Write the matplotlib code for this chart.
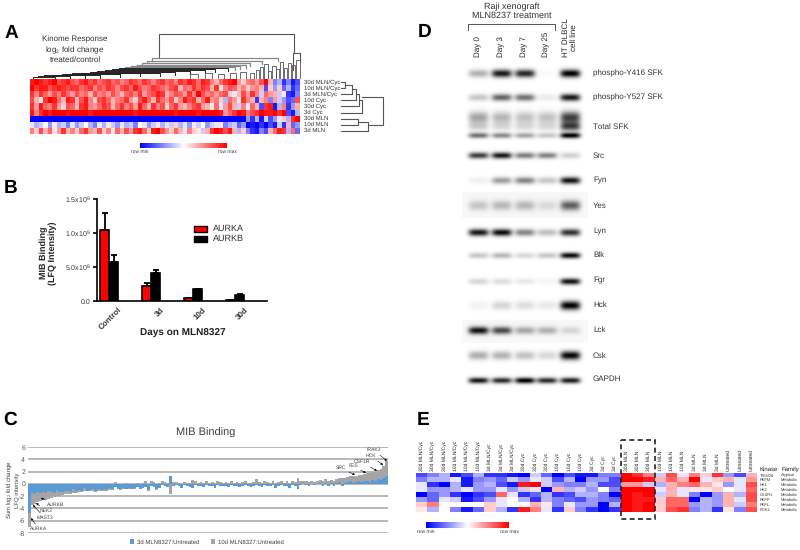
import numpy as np
import matplotlib
matplotlib.use('Agg')
import matplotlib.pyplot as plt
import matplotlib.patches as mpatches
from matplotlib.colors import LinearSegmentedColormap
from matplotlib.transforms import ScaledTranslation

plt.rcParams['font.family'] = ['Liberation Sans', 'DejaVu Sans']
plt.rcParams['mathtext.default'] = 'regular'
plt.rcParams['text.hinting'] = 'no_hinting'
plt.rcParams['text.hinting_factor'] = 1
plt.rcParams['axes.unicode_minus'] = False

W, H = 800, 550

# --- PANEL A DATA ---
a_labels = ['30d MLN/Cyc', '10d MLN/Cyc', '3d MLN/Cyc', '10d Cyc', '30d Cyc', '3d Cyc',
            '30d MLN', '10d MLN', '3d MLN']
a_r1 = [9,10,9,8,9,10,7,8,9,7, 6,8,9,7,8,6,7,8,6,7, 5,6,8,7,6,8,7,5,7,8,
        6,7,5,8,7,9,8,6,9,8, 5,3,6,8,9,10,4,2,5,6, 4,7,10,3,-5,-3,-8,-5,-9,-7]
a_r2 = [10,8,9,9,7,8,9,8,7,8, 8,6,7,8,5,7,6,8,7,5, 7,8,6,9,7,5,6,8,7,6,
        5,7,8,3,6,5,8,6,8,7, 3,8,1,5,7,6,3,5,2,4, 5,3,-7,2,-4,2,-6,-3,-8,-6]
a_r3 = [8,5,8,6,4,7,5,8,6,4, 7,5,6,3,7,5,6,4,7,5, 3,6,7,5,8,4,6,7,9,8,
        3,5,7,6,4,8,5,10,7,5, 6,4,6,7,2,-1,3,7,4,8, 5,-2,6,4,3,-2,1,-8,-9,-5]
a_r4 = [7,3,1,8,10,9,6,3,9,8, 3,7,9,5,2,7,8,6,3,5, 6,8,4,2,7,9,6,3,8,6,
        4,7,2,5,9,7,8,3,6,9, 4,5,2,-3,6,4,1,8,5,3, -8,3,5,-5,4,-2,-4,-7,-6,7]
a_r5 = [8,4,9,6,5,8,4,2,7,6, 3,8,9,5,4,6,8,7,3,6, 8,5,7,4,9,6,3,8,5,7,
        2,6,8,4,3,5,7,8,4,3, 1,6,-1,4,7,3,-2,5,-1,6, 3,-7,8,9,-9,-3,5,-8,-4,3]
a_r6 = [9,5,8,10,9,10,10,10,9,10, 10,10,10,9,10,10,10,10,10,10, 10,10,10,9,10,10,10,10,10,10,
        10,10,9,10,10,10,10,9,10,10, 10,10,9,4,6,8,10,9,5,7, 8,10,9,9,10,8,10,-7,-9,-3]
a_r7 = [-10,-10,-10,-10,-10,-10,-10,-10,-10,-10, -10,-10,-10,-10,-10,-10,-10,-10,-10,-10,
        -10,-10,-10,-10,-10,-10,-10,-10,-10,-10, -10,-10,-10,-10,-10,-10,-10,-10,-10,-10,
        -10,-10,-10,-10,-10,-10,-10,-10,-4,-8, -3,-9,-2,-7,-4,-1,2,-3,8,10]
a_r8 = [-1,-3,-2,0,-4,1,-3,-2,-5,-1, -4,-2,0,-3,-5,-1,-3,1,-2,-4, -1,-3,-2,-5,0,-1,-4,-2,1,-3,
        -1,-2,2,-3,-1,-4,1,-2,0,-4, -2,-1,1,-5,-3,-2,-6,-4,-10,-9, -10,-8,-10,-7,-9,-2,-8,3,-6,-4]
a_r9 = [5,2,7,3,6,1,4,8,3,5, 2,6,8,4,3,7,2,5,1,6, 3,7,4,8,9,6,2,9,10,7,
        4,2,6,3,-1,5,2,1,-2,3, 8,10,9,7,9,3,-3,2,-5,-8, -9,-5,-7,3,6,9,8,-3,6,-6]

# column dendrogram: ladder of merges, then the small clusters near the right end
lad_left = [152, 147, 142, 137, 131, 125, 119, 112, 105, 97, 90, 82, 72, 62, 52, 44, 38, 33]
lad_right = [278, 262, 250, 246, 240, 235, 228, 215, 205, 190, 175, 160, 140, 120, 100, 85, 70, 55]
lad_y = [58, 61, 63, 65, 66, 67, 68, 69, 70, 71, 71.5, 72.5, 73, 74, 74.5, 75, 76, 76.5]
small_left = [256, 260, 264, 268, 272, 276, 280, 284, 288, 292, 296, 250, 240, 230, 218, 205, 190]
small_right = [259, 263, 268, 271, 276, 279, 283, 287, 291, 295, 300, 254, 246, 236, 224, 212, 198]
small_y = [70, 67, 64, 71, 66, 69, 62, 68, 63, 65, 60, 73, 72, 73, 74, 73, 74]

# --- PANEL B DATA ---
b_groups = ['Control', '3d', '10d', '30d']
aurka = [1.05e9, 0.22e9, 0.05e9, 0.01e9]
aurka_err = [0.25e9, 0.04e9, 0.0, 0.0]
aurkb = [0.57e9, 0.41e9, 0.17e9, 0.09e9]
aurkb_err = [0.11e9, 0.05e9, 0.01e9, 0.02e9]
b_ticks = [0, 0.5e9, 1.0e9, 1.5e9]
b_ticklabels = ['0.0', '5.0x10$^8$', '1.0x10$^9$', '1.5x10$^9$']

# --- PANEL C DATA ---
c_blue = [-4.8,-1.5,-1.6,-1.4,-1.5,-1.3,-1.5,-1.2,-1.4,-1.5,
          -1.0,-1.3,-1.4,-1.1,-1.2,-1.4,-0.8,-1.2,-1.0,-1.1,
          -0.6,-1.1,-1.0,-0.9,-1.2,-0.9,-1.0,-0.8,-1.0,-0.7,
          -0.9,-0.5,-0.8,-0.9,-0.6,-0.9,-0.7,-0.8,-0.7,-0.5,
          -0.8,-0.6,-0.5,-1.0,-0.3,-0.5,-0.8,-0.6,-0.2,-0.4,
          -0.5,1.2,-0.3,-0.2,-0.4,-0.6,-0.2,-0.3,-0.5,-0.6,
          -0.2,-0.4,-0.3,-0.5,-0.2,-0.4,-0.3,-0.7,-0.2,-0.3,
          -0.4,-0.3,-0.5,-0.2,-0.4,-0.3,-0.5,-0.3,-0.2,-0.4,
          -0.5,-0.3,-0.2,-0.4,-0.5,-0.2,-0.3,-0.4,-0.2,-0.6,
          -0.3,-0.2,-0.4,-0.3,-0.7,-0.2,-0.3,-0.8,-0.2,-0.1,
          -0.2,-0.3,-0.1,-0.2,-0.1,0.1,-0.3,0.2,-0.4,0.1,
          -0.3,0.2,0.3,-0.4,0.2,0.3,0.4,0.2,0.3,0.4,
          0.3,0.5,0.4,0.3,0.6,0.5,0.8,0.6,0.9,1.3]
c_gray = [-2.2,-2.0,-1.6,-1.5,-1.3,-1.4,-1.1,-1.2,-0.9,-0.7,
          -0.9,-0.6,-0.4,-0.6,-0.5,-0.2,-0.7,-0.3,-0.4,-0.2,
          -0.6,-0.1,-0.2,-0.3,-0.1,-0.2,-0.1,-0.3,-0.1,-0.3,
          -0.1,0.3,-0.1,-0.1,-0.2,0.2,-0.1,-0.1,-0.1,0.2,
          -0.1,0.2,0.4,-0.1,0.5,0.3,-0.2,0.1,0.4,0.3,
          0.2,-1.6,0.3,0.3,0.2,-0.1,0.3,0.2,0.1,0.6,
          0.4,0.2,0.3,0.2,0.4,0.1,0.3,0.1,0.4,0.3,
          0.2,0.3,0.2,0.4,0.2,0.3,0.1,0.3,0.4,0.2,
          0.2,0.3,0.8,0.3,0.1,0.4,0.3,0.2,0.4,0.1,
          0.3,0.5,0.2,0.4,0.1,0.4,0.3,0.9,0.4,0.5,
          0.4,0.3,0.5,0.3,0.5,0.5,0.4,0.6,0.5,0.6,
          0.5,0.6,0.6,0.9,0.8,0.8,0.8,1.0,1.0,1.0,
          1.2,1.1,1.3,1.5,1.3,1.5,1.4,1.8,2.0,2.5]
c_names = ['AURKA', 'MAST3', 'NEK2', 'AURKB', 'SRC', 'FES', 'CSF1R', 'HCK', 'IRAK3']
c_text_xy = [(39, 529), (45, 518), (46, 511), (56, 505), (341, 468), (353, 466), (362, 462), (371, 456), (374, 450)]
c_tip_xy = [(31, 518), (33, 505), (36, 503), (41, 498), (355, 475), (366, 473), (377, 471), (383, 465), (387, 461)]

# --- PANEL D DATA ---
d_lanes = ['Day 0', 'Day 3', 'Day 7', 'Day 25']
d_labels = ['phospho-Y416 SFK', 'phospho-Y527 SFK', 'Total SFK', 'Src', 'Fyn', 'Yes', 'Lyn',
            'Blk', 'Fgr', 'Hck', 'Lck', 'Csk', 'GAPDH']
d_label_y = [73, 97, 127, 156, 180, 206, 231, 255, 280, 305, 330, 356, 379]
blot_y = [73, 97, 117, 126, 135, 155, 180, 205, 232, 255, 281, 305, 330, 355, 380]
blot_sy = [4.0, 3.6, 6.0, 4.5, 2.8, 3.2, 3.5, 5.0, 3.6, 3.0, 3.2, 4.5, 3.8, 4.4, 3.0]
blot_i = [[.30, .90, .85, .02, 1.0],
          [.22, .60, .55, .08, .90],
          [.35, .28, .24, .24, .75],
          [.18, .14, .14, .14, .70],
          [.55, .45, .35, .22, 1.0],
          [.75, .90, .50, .48, .18],
          [.06, .38, .48, .22, .92],
          [.20, .25, .25, .12, .60],
          [.90, .95, .48, .25, .80],
          [.22, .28, .15, .22, .95],
          [.16, .13, .09, .04, .92],
          [.05, .16, .13, .09, 1.0],
          [.90, .68, .32, .28, .14],
          [.32, .30, .24, .15, .98],
          [.90, .82, 1.0, .82, .88]]
blot_bg_top = [192, 320]
blot_bg_bot = [217, 342]
blot_bg_val = [.03, .03]

# --- PANEL E DATA ---
e_cols = ['30d MLN/Cyc'] * 3 + ['10d MLN/Cyc'] * 3 + ['3d MLN/Cyc'] * 3 + ['30d Cyc'] * 3 + \
         ['10d Cyc'] * 3 + ['3d Cyc'] * 3 + ['30d MLN'] * 3 + ['10d MLN'] * 3 + ['3d MLN'] * 3 + \
         ['Untreated'] * 3
e_kinase = ['TRIM28', 'PKFM', 'HK1', 'HK2', 'CKSR1', 'PKFP', 'PKFL', 'PGK1']
e_family = ['Atypical'] + ['Metabolic'] * 7
e_r1 = [-7,-5,-3,-9,-7,-3,-8,-8,-9,-10,-2,-6,-10,-7,-9,-9,-5,-5,10,8,5,-2,7,-1,5,2,8,-4,-7,3]
e_r2 = [-5,-3,-3,-1,-9,-5,-4,-6,-2,-4,-1,-2,-7,-3,-10,-4,-4,-7,10,10,9,3,6,3,10,-1,2,3,-1,4]
e_r3 = [-1,-8,-10,-3,-9,-4,-3,-7,-9,9,10,-2,-4,-5,-5,-3,-7,-7,4,4,-2,-3,3,5,6,3,1,-4,-1,7]
e_r4 = [-1,-4,-4,-3,-1,-4,-4,-1,-4,-2,-1,-10,3,-3,-2,-4,0,-5,10,10,10,-1,3,-1,1,1,2,0,-1,6]
e_r5 = [-10,-6,-4,-8,-10,-8,-7,6,-1,-8,-6,-3,-8,-7,-3,-3,-5,-10,10,9,10,-2,3,-1,-5,-10,-4,3,-3,7]
e_r6 = [-4,-6,-1,-2,-9,-7,-4,-1,0,-3,-8,-3,-5,-6,-7,-4,-5,-6,10,9,9,2,6,6,-10,-3,-4,3,-1,7]
e_r7 = [2,5,0,0,0,0,2,-1,0,0,3,1,-5,-1,-4,-4,-10,-3,10,9,10,2,6,6,-4,-3,-4,3,-2,5]
e_r8 = [1,-3,0,-5,-9,-6,2,-3,-8,9,5,-1,-8,2,-5,-8,-10,-8,10,9,10,2,7,8,-5,-3,-8,1,-5,7]

heat_cmap = LinearSegmentedColormap.from_list('rowscale', ['#0000ff', '#ffffff', '#ff0000'])
text_col = '#333333'


def ax_px(x0, y0, x1, y1, **kw):
    # axes from pixel box of the 800x550 picture
    return fig.add_axes([x0 / W, 1 - y1 / H, (x1 - x0) / W, (y1 - y0) / H], **kw)


def colorbar_px(x0, y0, x1, y1):
    cax = ax_px(x0, y0, x1, y1)
    cax.imshow(np.linspace(-1, 1, 200)[None, :], cmap=heat_cmap, aspect='auto')
    cax.axis('off')
    over.text(x0, y1 + 4, 'row min', fontsize=3.6, ha='center', va='center', color=text_col)
    over.text(x1, y1 + 4, 'row max', fontsize=3.6, ha='center', va='center', color=text_col)


fig = plt.figure(figsize=(W / 100, H / 100), dpi=100)

# overlay in pixels for text and small drawn pieces
over = fig.add_axes([0, 0, 1, 1], zorder=10)
over.set_xlim(0, W)
over.set_ylim(H, 0)
over.axis('off')

for letter, lx, ly in [('A', 11, 33), ('B', 11, 188), ('C', 10, 420), ('D', 425, 32), ('E', 423, 420)]:
    over.text(lx, ly, letter, fontsize=14, fontweight='bold', ha='center', va='center', color='black')

# --- PANEL A ---
ax_a = ax_px(30, 79, 300, 134)
a_data = np.array([a_r1, a_r2, a_r3, a_r4, a_r5, a_r6, a_r7, a_r8, a_r9])
ax_a.imshow(a_data, cmap=heat_cmap, vmin=-10, vmax=10, aspect='auto', interpolation='nearest')
ax_a.axis('off')

for i, lab in enumerate(a_labels):
    over.text(304, 82 + i * 6.1, lab, fontsize=4.1, va='center', color=text_col)
for ty, tline in zip([39, 50, 60], ['Kinome Response', 'log$_2$ fold change', 'treated/control']):
    over.text(75, ty, tline, fontsize=5.6, ha='center', va='center', color=text_col)

# column dendrogram
dc = '#555555'
over.plot([159, 159, 294, 294], [58, 34, 34, 53], color=dc, lw=0.8)
over.plot([293, 293, 300, 300], [70, 53, 53, 62], color=dc, lw=0.8)
for i, (l, r, y) in enumerate(zip(lad_left, lad_right, lad_y)):
    next_y = lad_y[i + 1] if i + 1 < len(lad_y) else 77.5
    shade = '#888888' if i < 6 else '#222222'
    over.plot([l, l, r, r], [next_y, y, y, min(y + 3, 77.5)], color=shade, lw=0.9 if i < 6 else 0.7)
for l, r, y in zip(small_left, small_right, small_y):
    over.plot([l, l, r, r], [77.5, y, y, 77.5], color=dc, lw=0.6)

# row dendrogram
row_y = [82 + i * 6.1 for i in range(9)]
over.plot([341, 345, 345, 341], [row_y[0], row_y[0], row_y[1], row_y[1]], color=dc, lw=0.8)
over.plot([345, 352, 352, 341], [row_y[0] + 3, row_y[0] + 3, row_y[2], row_y[2]], color=dc, lw=0.8)
over.plot([352, 356, 356, 341], [row_y[1] + 1, row_y[1] + 1, row_y[3], row_y[3]], color=dc, lw=0.8)
over.plot([356, 359, 359, 341], [row_y[2], row_y[2], row_y[4], row_y[4]], color=dc, lw=0.8)
over.plot([359, 362, 362, 341], [row_y[3], row_y[3], row_y[5], row_y[5]], color=dc, lw=0.8)
over.plot([341, 358, 358, 341], [row_y[6], row_y[6], row_y[7], row_y[7]], color=dc, lw=0.8)
over.plot([358, 368, 368, 341], [row_y[6] + 3, row_y[6] + 3, row_y[8], row_y[8]], color=dc, lw=0.8)
over.plot([362, 383, 383, 368], [97, 97, 125, 125], color=dc, lw=0.8)

colorbar_px(140, 143, 227, 148)

# --- PANEL B ---
ax_b = ax_px(97, 199, 267, 301)
ax_b.patch.set_alpha(0)
xb = np.arange(len(b_groups))
bw = 9 / 42
ax_b.bar(xb - bw / 2, aurka, bw, color='#ff0000', edgecolor='black', lw=1.2, zorder=3)
ax_b.bar(xb + bw / 2, aurkb, bw, color='black', edgecolor='black', lw=1.2, zorder=3)
ax_b.errorbar(xb - bw / 2, aurka, yerr=[np.zeros(4), aurka_err], fmt='none', ecolor='black',
              elinewidth=1.3, capsize=2.3, capthick=1.3, zorder=2)
ax_b.errorbar(xb + bw / 2, aurkb, yerr=[np.zeros(4), aurkb_err], fmt='none', ecolor='black',
              elinewidth=1.3, capsize=2.3, capthick=1.3, zorder=2)
ax_b.set_xlim(-12 / 42, 158 / 42)
ax_b.set_ylim(0, 1.5e9)
ax_b.spines[['top', 'right']].set_visible(False)
ax_b.spines[['left', 'bottom']].set_linewidth(1.2)
ax_b.set_xticks(xb)
ax_b.set_xticklabels(b_groups, rotation=45, ha='right', rotation_mode='anchor', fontsize=5.6,
                     fontweight='bold', color=text_col)
ax_b.set_yticks(b_ticks)
ax_b.set_yticklabels(b_ticklabels, fontsize=4.9, color=text_col)
ax_b.tick_params(width=1.2, length=3, pad=1.5)
ax_b.tick_params(axis='x', length=0)
for tl in ax_b.get_xticklabels():
    tl.set_transform(tl.get_transform() + ScaledTranslation(9 / 100, -3 / 100, fig.dpi_scale_trans))
over.text(183, 333, 'Days on MLN8327', fontsize=7.4, fontweight='bold', ha='center', va='center', color='#222222')
over.text(48, 253, 'MIB Binding\n(LFQ Intensity)', fontsize=6.8, fontweight='bold', rotation=90,
          ha='center', va='center', linespacing=1.1, color='#222222')
over.add_patch(mpatches.Rectangle((194, 226), 13, 6, fc='#ff0000', ec='black', lw=1))
over.add_patch(mpatches.Rectangle((194, 236), 13, 6, fc='black', ec='black', lw=1))
over.text(213, 229, 'AURKA', fontsize=6.4, va='center', color=text_col)
over.text(213, 239, 'AURKB', fontsize=6.4, va='center', color=text_col)

# --- PANEL C ---
ax_c = ax_px(28, 447, 388, 533)
ax_c.patch.set_alpha(0)
blue = np.array(c_blue)
gray = np.array(c_gray)
xc = np.arange(len(blue))
base = np.where(np.sign(blue) == np.sign(gray), blue, 0)
ax_c.bar(xc, gray, 1.0, bottom=base, color='#a5a5a5', lw=0, zorder=3)
ax_c.bar(xc, blue, 1.0, color='#5b9bd5', lw=0, zorder=4)
ax_c.set_xlim(-0.5, len(blue) - 0.5)
ax_c.set_ylim(-8, 6)
ax_c.set_yticks(np.arange(-8, 7, 2))
ax_c.set_xticks([])
ax_c.grid(axis='y', color='#a6a6a6', lw=1.1, zorder=1)
ax_c.tick_params(length=0, labelsize=4.8, labelcolor='#595959', pad=2)
for s in ax_c.spines.values():
    s.set_visible(False)
over.text(206, 433, 'MIB Binding', fontsize=7.6, ha='center', va='center', color='#404040')
over.text(12, 490, 'Sum log$_2$ fold change\nLFQ intensity', fontsize=4.6, rotation=90, ha='center', va='center',
          linespacing=1.0, color='#404040')
for nm, txy, tip in zip(c_names, c_text_xy, c_tip_xy):
    over.annotate(nm, xy=tip, xytext=txy, fontsize=3.3, ha='center', va='center', color='#404040',
                  arrowprops=dict(arrowstyle='-|>', color='black', lw=0.4, mutation_scale=3, shrinkA=0, shrinkB=0))
over.add_patch(mpatches.Rectangle((130, 539), 4, 5, fc='#5b9bd5', ec='none'))
over.text(137, 542, '3d MLN8327:Untreated', fontsize=4.2, va='center', color='#404040')
over.add_patch(mpatches.Rectangle((211, 539), 4, 5, fc='#a5a5a5', ec='none'))
over.text(218, 542, '10d MLN8327:Untreated', fontsize=4.2, va='center', color='#404040')

# --- PANEL D ---
lane_x = np.array([478, 501, 524, 546, 569])
gx, gy = np.meshgrid(np.arange(460, 592), np.arange(60, 395))
blot = np.zeros(gx.shape)
for top, bot, val in zip(blot_bg_top, blot_bg_bot, blot_bg_val):
    blot[(gy >= top) & (gy <= bot) & (gx <= 586) & (gx >= 462)] += val
for yc, sy, vals in zip(blot_y, blot_sy, blot_i):
    for lx, val in zip(lane_x, vals):
        blot += val * np.exp(-((gx - lx) / 10.0) ** 4) * np.exp(-((gy - yc) / sy) ** 2)
ax_d = ax_px(460, 60, 592, 395)
ax_d.imshow(np.clip(blot, 0, 1), cmap='gray_r', vmin=0, vmax=1.0, aspect='auto', interpolation='bilinear')
ax_d.axis('off')
for lab, ly in zip(d_labels, d_label_y):
    over.text(593, ly, lab, fontsize=5.9, va='center', color=text_col)
over.text(512, 11, 'Raji xenograft\nMLN8237 treatment', fontsize=6.2, ha='center', va='center', linespacing=1.15, color=text_col)
over.plot([468, 468, 555, 555], [30, 24, 24, 30], color='#555555', lw=0.7)
for lx, lab in zip(lane_x[:4], d_lanes):
    over.text(lx, 57, lab, fontsize=6.1, rotation=90, ha='center', va='bottom', color='#222222')
over.text(570, 57, 'HT DLBCL\ncell line', fontsize=6.1, rotation=90, ha='center', va='bottom', linespacing=1.0, color='#222222')

# --- PANEL E ---
ax_e = ax_px(416, 473, 757, 512)
e_data = np.array([e_r1, e_r2, e_r3, e_r4, e_r5, e_r6, e_r7, e_r8])
ax_e.imshow(e_data, cmap=heat_cmap, vmin=-10, vmax=10, aspect='auto', interpolation='nearest')
ax_e.axis('off')
col_w = (757 - 416) / len(e_cols)
for i, lab in enumerate(e_cols):
    over.text(416 + (i + 0.5) * col_w, 471, lab, fontsize=3.7, rotation=90, ha='center', va='bottom', color='#222222')
for i, (kin, fam) in enumerate(zip(e_kinase, e_family)):
    ry = 473 + (i + 0.5) * 39 / 8
    over.text(760, ry, kin, fontsize=2.9, va='center', color=text_col)
    over.text(781, ry, fam, fontsize=2.9, va='center', color=text_col)
over.text(759, 469, 'Kinase', fontsize=4.4, va='center', color='#222222')
over.text(781, 469, 'Family', fontsize=4.4, va='center', color='#222222')
over.add_patch(mpatches.Rectangle((621, 440), 34, 79, fc='none', ec='#222222', lw=1.2, ls=(0, (3, 2)), zorder=5))
colorbar_px(426, 522, 509, 528)

fig.savefig('out.png', dpi=100)
